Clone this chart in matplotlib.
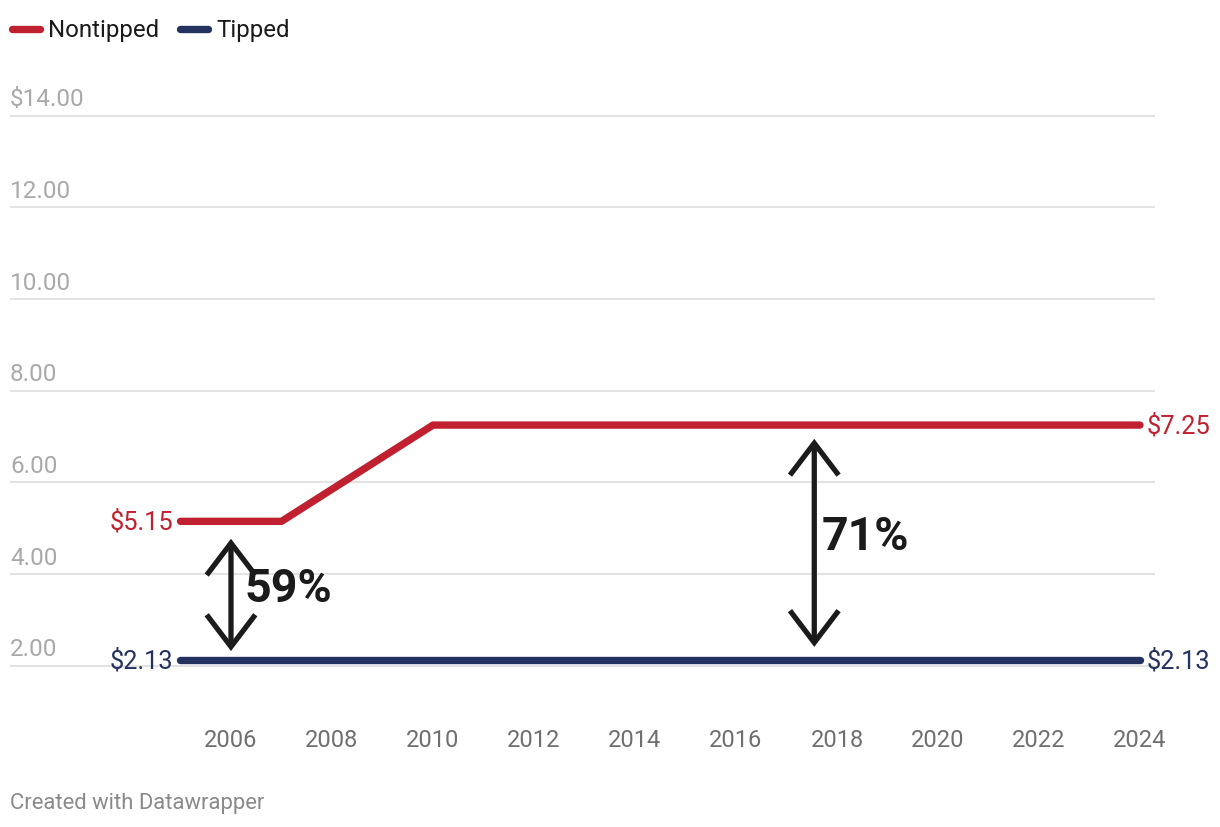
import matplotlib
matplotlib.use("Agg")
import matplotlib.pyplot as plt
import matplotlib.transforms as mtransforms
from matplotlib.patches import FancyArrowPatch

plt.rcParams['font.family'] = ['Roboto', 'DejaVu Sans']

# ---- data ----
years = [2005, 2006, 2007, 2008, 2009, 2010, 2011, 2012, 2013, 2014, 2015,
         2016, 2017, 2018, 2019, 2020, 2021, 2022, 2023, 2024]
nontipped = [5.15, 5.15, 5.15, 5.85, 6.55, 7.25, 7.25, 7.25, 7.25, 7.25, 7.25,
             7.25, 7.25, 7.25, 7.25, 7.25, 7.25, 7.25, 7.25, 7.25]
tipped = [2.13] * len(years)
x_ticks = [2006, 2008, 2010, 2012, 2014, 2016, 2018, 2020, 2022, 2024]
y_ticks = [2, 4, 6, 8, 10, 12, 14]
y_tick_labels = ["2.00", "4.00", "6.00", "8.00", "10.00", "12.00", "$14.00"]
series_names = ["Nontipped", "Tipped"]
gap_labels = ["59%", "71%"]
gap_x = [2006, 2017.55]
gap_top = [4.77, 6.95]
gap_bottom = [2.32, 2.41]

RED = "#c0202f"
NAVY = "#24325f"
GRID = "#e1e1e1"
YLAB = "#a9a9a9"
XLAB = "#6f6f6f"
DARK = "#1b1b1b"

W, H = 1220, 828
fig = plt.figure(figsize=(W / 100, H / 100), dpi=100)
fig.patch.set_facecolor("white")

# axes placement (pixels)
left_px, right_px = 10, 1155
ax = fig.add_axes([left_px / W, 0.1394, (right_px - left_px) / W, 0.7474])
x0 = 2006 - 221 / 50.5
x1 = 2024 + 15 / 50.5
ax.set_xlim(x0, x1)
ax.set_ylim(1.0, 14.5)

for s in ax.spines.values():
    s.set_visible(False)

ax.set_yticks(y_ticks)
ax.set_yticklabels([])
ax.tick_params(axis="y", length=0)
ax.yaxis.grid(True, color=GRID, linewidth=1.3)
ax.set_axisbelow(True)

ax.set_xticks(x_ticks)
ax.set_xticklabels([str(x) for x in x_ticks], fontsize=17, color=XLAB)
ax.tick_params(axis="x", length=0, pad=12)

# y labels above gridlines
trans_lab = mtransforms.blended_transform_factory(ax.transAxes, ax.transData)
trans_lab = trans_lab + mtransforms.ScaledTranslation(0, 7.4 / 72, fig.dpi_scale_trans)
for v, lab in zip(y_ticks, y_tick_labels):
    ax.text(0, v, lab, transform=trans_lab, ha="left", va="baseline",
            fontsize=17.5, color=YLAB)

# lines
ax.plot(years, nontipped, color=RED, lw=5.3, solid_capstyle="round",
        solid_joinstyle="round", zorder=3)
ax.plot(years, tipped, color=NAVY, lw=5.3, solid_capstyle="round",
        solid_joinstyle="round", zorder=3)

# end labels
off_l = mtransforms.offset_copy(ax.transData, fig=fig, x=-5, y=0, units="points")
off_r = mtransforms.offset_copy(ax.transData, fig=fig, x=5, y=0, units="points")
ax.text(years[0], nontipped[0], f"${nontipped[0]:.2f}", transform=off_l,
        ha="right", va="center", fontsize=18.3, color=RED)
ax.text(years[-1], nontipped[-1], f"${nontipped[-1]:.2f}", transform=off_r,
        ha="left", va="center", fontsize=18.3, color=RED)
ax.text(years[0], tipped[0], f"${tipped[0]:.2f}", transform=off_l,
        ha="right", va="center", fontsize=18.3, color=NAVY)
ax.text(years[-1], tipped[-1], f"${tipped[-1]:.2f}", transform=off_r,
        ha="left", va="center", fontsize=18.3, color=NAVY)

# gap arrows
label_dx = [10, 5]
for gx, gt, gb, lab, dx in zip(gap_x, gap_top, gap_bottom, gap_labels, label_dx):
    arr = FancyArrowPatch((gx, gb), (gx, gt), arrowstyle="<->,head_length=2.3,head_width=1.75",
                          mutation_scale=10, color=DARK, lw=3.8, shrinkA=0, shrinkB=0,
                          zorder=4, capstyle="butt", joinstyle="miter")
    ax.add_patch(arr)
    lab_off = mtransforms.offset_copy(ax.transData, fig=fig, x=dx, y=5, units="points")
    ax.text(gx, (gt + gb) / 2, lab, transform=lab_off, ha="left", va="center",
            fontsize=33.5, fontweight="bold", color=DARK, zorder=5)

# legend (manual)
leg_y = 1 - 30 / H
fig.add_artist(plt.Line2D([12 / W, 40 / W], [leg_y, leg_y], color=RED, lw=5.3,
                          solid_capstyle="round"))
fig.text(48 / W, leg_y, series_names[0], ha="left", va="center", fontsize=17.3, color="#1a1a1a")
fig.add_artist(plt.Line2D([180 / W, 208 / W], [leg_y, leg_y], color=NAVY, lw=5.3,
                          solid_capstyle="round"))
fig.text(216 / W, leg_y, series_names[1], ha="left", va="center", fontsize=17.3, color="#1a1a1a")

# credit
fig.text(10 / W, 1 - 804 / H, "Created with Datawrapper", ha="left", va="center",
         fontsize=15.8, color="#8a8a8a")

fig.savefig("out.png", dpi=100, facecolor="white")
